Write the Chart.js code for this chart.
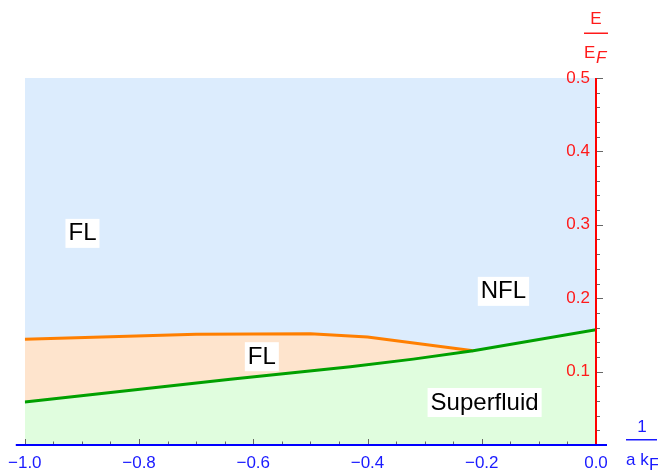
<!DOCTYPE html>
<html>
<head>
<meta charset="utf-8">
<script src="https://cdn.jsdelivr.net/npm/chart.js@4/dist/chart.umd.min.js"></script>
<style>
  html, body { margin: 0; padding: 0; background: #fff; }
  #wrap { width: 658px; height: 473px; }
</style>
</head>
<body>
<div id="wrap"><canvas id="chart"></canvas></div>
<script>
// phase boundaries
const xTop = [-1, 0];
const yTop = [0.5, 0.5];

const xOrange = [-1, -0.7, -0.5, -0.4, -0.215];
const yOrange = [0.144, 0.151, 0.1515, 0.147, 0.1285];

const xGreen = [-1, -0.64, -0.43, -0.32, -0.215, 0];
const yGreen = [0.0586, 0.0895, 0.1067, 0.117, 0.1285, 0.157];

// region labels
const regionNames = ["FL", "NFL", "FL", "Superfluid"];
const regionX = [-0.899, -0.162, -0.585, -0.195];
const regionY = [0.289, 0.210, 0.121, 0.0586];

const xTicks = [-1, -0.8, -0.6, -0.4, -0.2, 0];
const yTicks = [0, 0.1, 0.2, 0.3, 0.4, 0.5];

const pts = (xs, ys) => xs.map((x, i) => ({ x: x, y: ys[i] }));
const fmt = (v) => (v < 0 ? "\u2212" : "") + Math.abs(v).toFixed(1);

const BLUE = "#1a1aff";
const RED = "#ff1a1a";
const FONT = "'Liberation Sans', Arial, sans-serif";

const axesplugin = {
    id: "axesplugin",
    afterDatasetsDraw(chart) {
        const c = chart.ctx;
        const a = chart.chartArea;
        const xs = chart.scales.x;
        const ys = chart.scales.y;
        c.save();

        // region labels with white boxes
        c.font = "24px " + FONT;
        c.textAlign = "center";
        c.textBaseline = "middle";
        regionNames.forEach((name, i) => {
            const px = xs.getPixelForValue(regionX[i]);
            const py = ys.getPixelForValue(regionY[i]);
            const w = c.measureText(name).width;
            c.fillStyle = "#fff";
            c.fillRect(px - w / 2 - 3, py - 14, w + 6, 29);
            c.fillStyle = "#000";
            c.fillText(name, px, py + 1);
        });

        // tick marks
        c.strokeStyle = "#666";
        c.lineWidth = 1;
        for (let i = 0; i <= 20; i++) {
            const v = -1 + i * 0.05;
            const px = Math.round(xs.getPixelForValue(v)) + 0.5;
            const len = i % 4 === 0 ? 6 : 3.5;
            c.beginPath();
            c.moveTo(px, a.bottom);
            c.lineTo(px, a.bottom - len);
            c.stroke();
        }
        for (let i = 1; i <= 25; i++) {
            const v = i * 0.02;
            const py = Math.round(ys.getPixelForValue(v)) + 0.5;
            const len = i % 5 === 0 ? 7 : 4;
            c.beginPath();
            c.moveTo(a.right, py);
            c.lineTo(a.right + len, py);
            c.stroke();
        }

        // axis lines
        c.lineWidth = 2;
        c.strokeStyle = "#ff0000";
        c.beginPath();
        c.moveTo(a.right, a.top);
        c.lineTo(a.right, a.bottom);
        c.stroke();
        c.strokeStyle = "#0000ff";
        c.beginPath();
        c.moveTo(a.left - 9, a.bottom);
        c.lineTo(a.right + 11, a.bottom);
        c.stroke();

        // axis titles as fractions
        c.font = "17px " + FONT;
        c.textAlign = "center";
        c.textBaseline = "middle";
        c.fillStyle = BLUE;
        c.fillText("1", 642, 427);
        c.fillRect(626, 439, 31, 1.5);
        c.textAlign = "left";
        c.fillText("a k", 626, 460);
        c.fillText("F", 649, 465);

        c.fillStyle = RED;
        c.textAlign = "center";
        c.fillText("E", a.right, 19);
        c.fillRect(a.right - 12, 32.5, 24, 1.5);
        c.textAlign = "left";
        c.fillText("E", a.right - 12, 53);
        c.font = "italic 17px " + FONT;
        c.fillText("F", a.right, 58);

        c.restore();
    },
};

new Chart(document.getElementById("chart"), {
    type: "line",
    data: {
        datasets: [
            {
                label: "top",
                data: pts(xTop, yTop),
                borderWidth: 0,
                pointRadius: 0,
                fill: "origin",
                backgroundColor: "rgb(220, 236, 253)",
                order: 3,
            },
            {
                label: "FL boundary",
                data: pts(xOrange, yOrange),
                borderColor: "rgb(255, 127, 0)",
                borderWidth: 3,
                pointRadius: 0,
                fill: "origin",
                backgroundColor: "rgb(254, 228, 205)",
                order: 2,
            },
            {
                label: "Superfluid boundary",
                data: pts(xGreen, yGreen),
                borderColor: "rgb(0, 160, 0)",
                borderWidth: 3,
                pointRadius: 0,
                fill: "origin",
                backgroundColor: "rgb(224, 253, 222)",
                order: 1,
            },
        ],
    },
    options: {
        responsive: true,
        maintainAspectRatio: false,
        animation: false,
        layout: { padding: { left: 22, top: 78, right: 62, bottom: 0 } },
        plugins: {
            legend: { display: false },
            tooltip: { enabled: false },
            filler: { drawTime: "beforeDatasetsDraw" },
        },
        scales: {
            x: {
                type: "linear",
                min: -1,
                max: 0,
                border: { display: false },
                grid: { display: false, drawTicks: false },
                afterBuildTicks: (s) => { s.ticks = xTicks.map((v) => ({ value: v })); },
                afterFit: (s) => { s.height = 28; },
                ticks: {
                    color: BLUE,
                    padding: 8,
                    maxRotation: 0,
                    font: { family: FONT, size: 17 },
                    callback: (v) => fmt(v),
                },
            },
            y: {
                type: "linear",
                position: "right",
                min: 0,
                max: 0.5,
                border: { display: false },
                grid: { display: false, drawTicks: false },
                afterBuildTicks: (s) => { s.ticks = yTicks.map((v) => ({ value: v })); },
                afterFit: (s) => { s.width = 0; },
                ticks: {
                    mirror: true,
                    z: 1,
                    color: RED,
                    padding: -6,
                    font: { family: FONT, size: 17 },
                    callback: (v) => (v === 0 ? "" : v.toFixed(1)),
                },
            },
        },
    },
    plugins: [axesplugin],
});
</script>
</body>
</html>
